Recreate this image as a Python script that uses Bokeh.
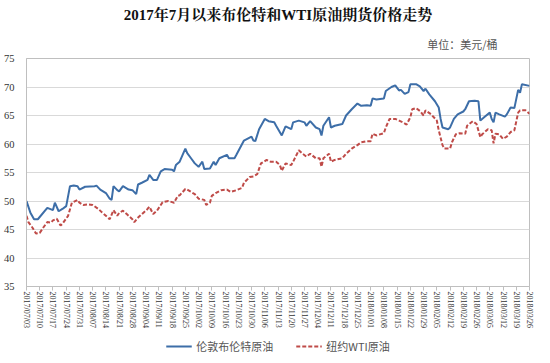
from bokeh.plotting import figure
from bokeh.layouts import column
from bokeh.models import Range1d, FixedTicker, Legend, LegendItem, Title
from bokeh.embed import file_html
from bokeh.resources import INLINE

# days since 2017/07/03
brent_day = [0, 2, 4, 6, 11, 14, 15, 17, 19, 21, 23, 25, 27, 28, 31, 36, 37, 39, 42, 44, 45, 46, 48, 49, 51, 54, 56, 58, 59, 61, 64, 65, 67, 69, 71, 73, 77, 78, 79, 81, 84, 85, 87, 89, 91, 93, 94, 97, 99, 100, 102, 106, 107, 110, 111, 115, 119, 120, 121, 123, 126, 128, 131, 132, 135, 137, 140, 141, 144, 147, 148, 150, 153, 155, 156, 157, 160, 161, 163, 167, 169, 172, 175, 177, 180, 182, 183, 185, 189, 190, 193, 195, 197, 198, 200, 202, 203, 206, 208, 210, 211, 213, 216, 218, 219, 220, 223, 224, 226, 228, 231, 232, 234, 237, 239, 240, 242, 245, 246, 247, 248, 250, 253, 254, 256, 258, 260, 261, 262, 266]
brent_price = [50.0, 48.0, 46.8, 46.8, 48.8, 48.4, 49.7, 48.2, 48.6, 49.1, 52.6, 52.7, 52.6, 52.0, 52.5, 52.6, 52.7, 52.0, 51.4, 50.4, 50.2, 52.6, 51.9, 51.7, 52.6, 52.0, 51.9, 51.2, 52.9, 53.2, 53.7, 54.6, 53.7, 53.7, 55.2, 55.6, 55.5, 55.2, 56.3, 56.9, 59.2, 58.4, 57.5, 56.6, 56.0, 56.9, 55.6, 55.7, 56.9, 56.3, 57.5, 58.1, 57.5, 57.5, 58.1, 60.6, 61.3, 60.6, 60.5, 62.6, 64.4, 64.0, 63.8, 63.2, 61.5, 63.1, 62.6, 63.8, 64.1, 63.8, 63.2, 64.0, 62.9, 62.6, 61.5, 63.2, 64.7, 62.9, 63.2, 63.5, 65.0, 66.1, 67.1, 66.7, 66.8, 66.7, 68.0, 67.8, 68.0, 69.3, 70.0, 70.3, 69.4, 69.5, 68.8, 69.1, 70.5, 70.5, 70.1, 69.3, 69.7, 68.7, 67.5, 66.4, 64.4, 62.9, 62.6, 62.9, 64.4, 65.2, 65.7, 66.1, 67.5, 67.6, 67.5, 64.1, 64.7, 65.5, 64.4, 63.8, 65.5, 65.2, 64.8, 65.2, 66.4, 66.3, 69.5, 69.0, 70.5, 70.2]

wti_day = [0, 1, 3, 5, 7, 9, 11, 13, 14, 16, 18, 19, 22, 24, 27, 28, 30, 33, 35, 38, 40, 43, 44, 46, 48, 49, 51, 53, 56, 57, 59, 62, 64, 65, 67, 69, 72, 75, 77, 78, 80, 81, 84, 85, 88, 89, 91, 94, 95, 97, 98, 100, 103, 106, 108, 111, 114, 115, 118, 120, 122, 124, 127, 129, 132, 134, 135, 137, 140, 141, 144, 146, 148, 150, 153, 155, 156, 157, 160, 161, 163, 167, 169, 172, 175, 177, 180, 182, 183, 185, 189, 190, 192, 195, 197, 199, 201, 203, 204, 206, 208, 210, 211, 214, 217, 218, 220, 221, 224, 225, 227, 229, 232, 233, 236, 238, 240, 241, 244, 246, 247, 248, 250, 252, 254, 256, 258, 260, 261, 264, 266]
wti_price = [47.4, 46.3, 45.4, 44.3, 44.4, 45.4, 46.3, 46.2, 46.6, 46.9, 45.7, 46.0, 47.4, 49.7, 50.2, 49.7, 49.3, 49.4, 49.3, 48.6, 48.0, 47.1, 46.8, 48.4, 47.4, 47.9, 48.3, 47.7, 46.8, 46.3, 47.1, 48.0, 48.6, 49.0, 47.7, 48.3, 49.8, 50.0, 49.8, 49.7, 50.9, 51.0, 52.1, 52.0, 51.4, 51.2, 50.4, 50.2, 49.3, 49.7, 50.9, 51.4, 51.9, 52.0, 51.6, 51.9, 52.3, 53.2, 54.2, 54.3, 54.7, 56.6, 57.2, 56.9, 56.9, 56.3, 55.3, 56.6, 56.3, 56.9, 58.9, 58.3, 57.8, 58.3, 57.5, 57.5, 56.0, 57.5, 58.3, 56.9, 57.2, 57.5, 58.3, 59.2, 59.8, 60.3, 60.5, 60.5, 61.8, 61.5, 61.9, 62.9, 64.4, 64.4, 64.1, 63.8, 63.4, 64.7, 66.1, 66.3, 65.8, 65.0, 65.9, 65.2, 64.1, 62.4, 59.8, 59.2, 59.2, 60.3, 61.7, 61.9, 61.8, 63.2, 64.0, 63.5, 61.2, 61.7, 62.6, 62.4, 60.1, 61.8, 61.7, 60.9, 61.3, 62.1, 62.4, 65.5, 65.9, 65.9, 65.3]

tick_labels = ["2017/07/03", "2017/07/10", "2017/07/17", "2017/07/24", "2017/07/31",
               "2017/08/07", "2017/08/14", "2017/08/21", "2017/08/28",
               "2017/09/04", "2017/09/11", "2017/09/18", "2017/09/25",
               "2017/10/02", "2017/10/09", "2017/10/16", "2017/10/23", "2017/10/30",
               "2017/11/06", "2017/11/13", "2017/11/20", "2017/11/27",
               "2017/12/04", "2017/12/11", "2017/12/18", "2017/12/25",
               "2018/01/01", "2018/01/08", "2018/01/15", "2018/01/22", "2018/01/29",
               "2018/02/05", "2018/02/12", "2018/02/19", "2018/02/26",
               "2018/03/05", "2018/03/12", "2018/03/19", "2018/03/26"]
y_ticks = [35, 40, 45, 50, 55, 60, 65, 70, 75]
series_names = ["伦敦布伦特原油", "纽约WTI原油"]

tick_days = [7 * i for i in range(len(tick_labels))]

SERIF = "'Liberation Serif', 'Noto Serif CJK SC', 'Noto Sans CJK SC', serif"
CJK = "'Noto Sans CJK SC', sans-serif"
BLUE = "#3d6ea8"
RED = "#bf4b48"

p = figure(width=534, height=336, output_backend="svg", toolbar_location=None,
           x_range=Range1d(0, tick_days[-1]), y_range=Range1d(35, 75),
           min_border_left=23, min_border_right=5, min_border_top=52, min_border_bottom=50)

p.add_layout(Title(text="单位：美元/桶", align="right", offset=32,
                   text_font=CJK, text_font_size="11px", text_font_style="normal",
                   text_color="#555555", standoff=13), "above")
p.add_layout(Title(text="2017年7月以来布伦特和WTI原油期货价格走势", align="center", offset=-25,
                   text_font=SERIF, text_font_size="15px", text_font_style="bold",
                   text_color="#111111", standoff=9), "above")

p.outline_line_color = "#bfbfbf"
p.background_fill_color = "white"
p.border_fill_color = "white"

p.xgrid.grid_line_color = None
p.ygrid.grid_line_color = "#d9d9d9"
p.ygrid.ticker = FixedTicker(ticks=y_ticks)

p.yaxis.ticker = FixedTicker(ticks=y_ticks)
p.yaxis.major_tick_line_color = None
p.yaxis.minor_tick_line_color = None
p.yaxis.axis_line_color = "#bfbfbf"
p.yaxis.major_label_text_font = SERIF
p.yaxis.major_label_text_font_size = "10.5px"
p.yaxis.major_label_text_color = "#333333"
p.yaxis.major_label_standoff = 6

p.xaxis.ticker = FixedTicker(ticks=tick_days)
p.xaxis.major_label_overrides = {d: t for d, t in zip(tick_days, tick_labels)}
p.xaxis.major_label_orientation = "vertical"
p.xaxis.major_label_text_font = SERIF
p.xaxis.major_label_text_font_size = "8px"
p.xaxis.major_label_text_color = "#333333"
p.xaxis.major_tick_out = 4
p.xaxis.major_tick_in = 0
p.xaxis.major_tick_line_color = "#bfbfbf"
p.xaxis.minor_tick_line_color = None
p.xaxis.axis_line_color = "#bfbfbf"
p.xaxis.major_label_standoff = 1

p.line(brent_day, brent_price, line_color=BLUE, line_width=2)
p.line(wti_day, wti_price, line_color=RED, line_width=2, line_dash="4 2")

# legend strip below the chart (series drawn far outside its visible range)
lf = figure(width=534, height=19, output_backend="svg", toolbar_location=None,
            x_range=Range1d(0, 1), y_range=Range1d(0, 1), min_border=0)
lf.axis.visible = False
lf.grid.visible = False
lf.outline_line_color = None
lf.background_fill_alpha = 0
lf.border_fill_alpha = 0
l1 = lf.line(brent_day, brent_price, line_color=BLUE, line_width=2)
l2 = lf.line(wti_day, wti_price, line_color=RED, line_width=2, line_dash="4 2")
legend = Legend(items=[LegendItem(label=series_names[0], renderers=[l1]),
                       LegendItem(label=series_names[1], renderers=[l2])],
                orientation="horizontal", location="center",
                label_text_font=CJK, label_text_font_size="11px", label_text_color="#555555",
                glyph_width=26, glyph_height=12, label_height=12, padding=0, margin=0,
                spacing=22, border_line_color=None, background_fill_alpha=0)
lf.add_layout(legend, "center")

open("out.html", "w").write(file_html(column(p, lf), INLINE))
